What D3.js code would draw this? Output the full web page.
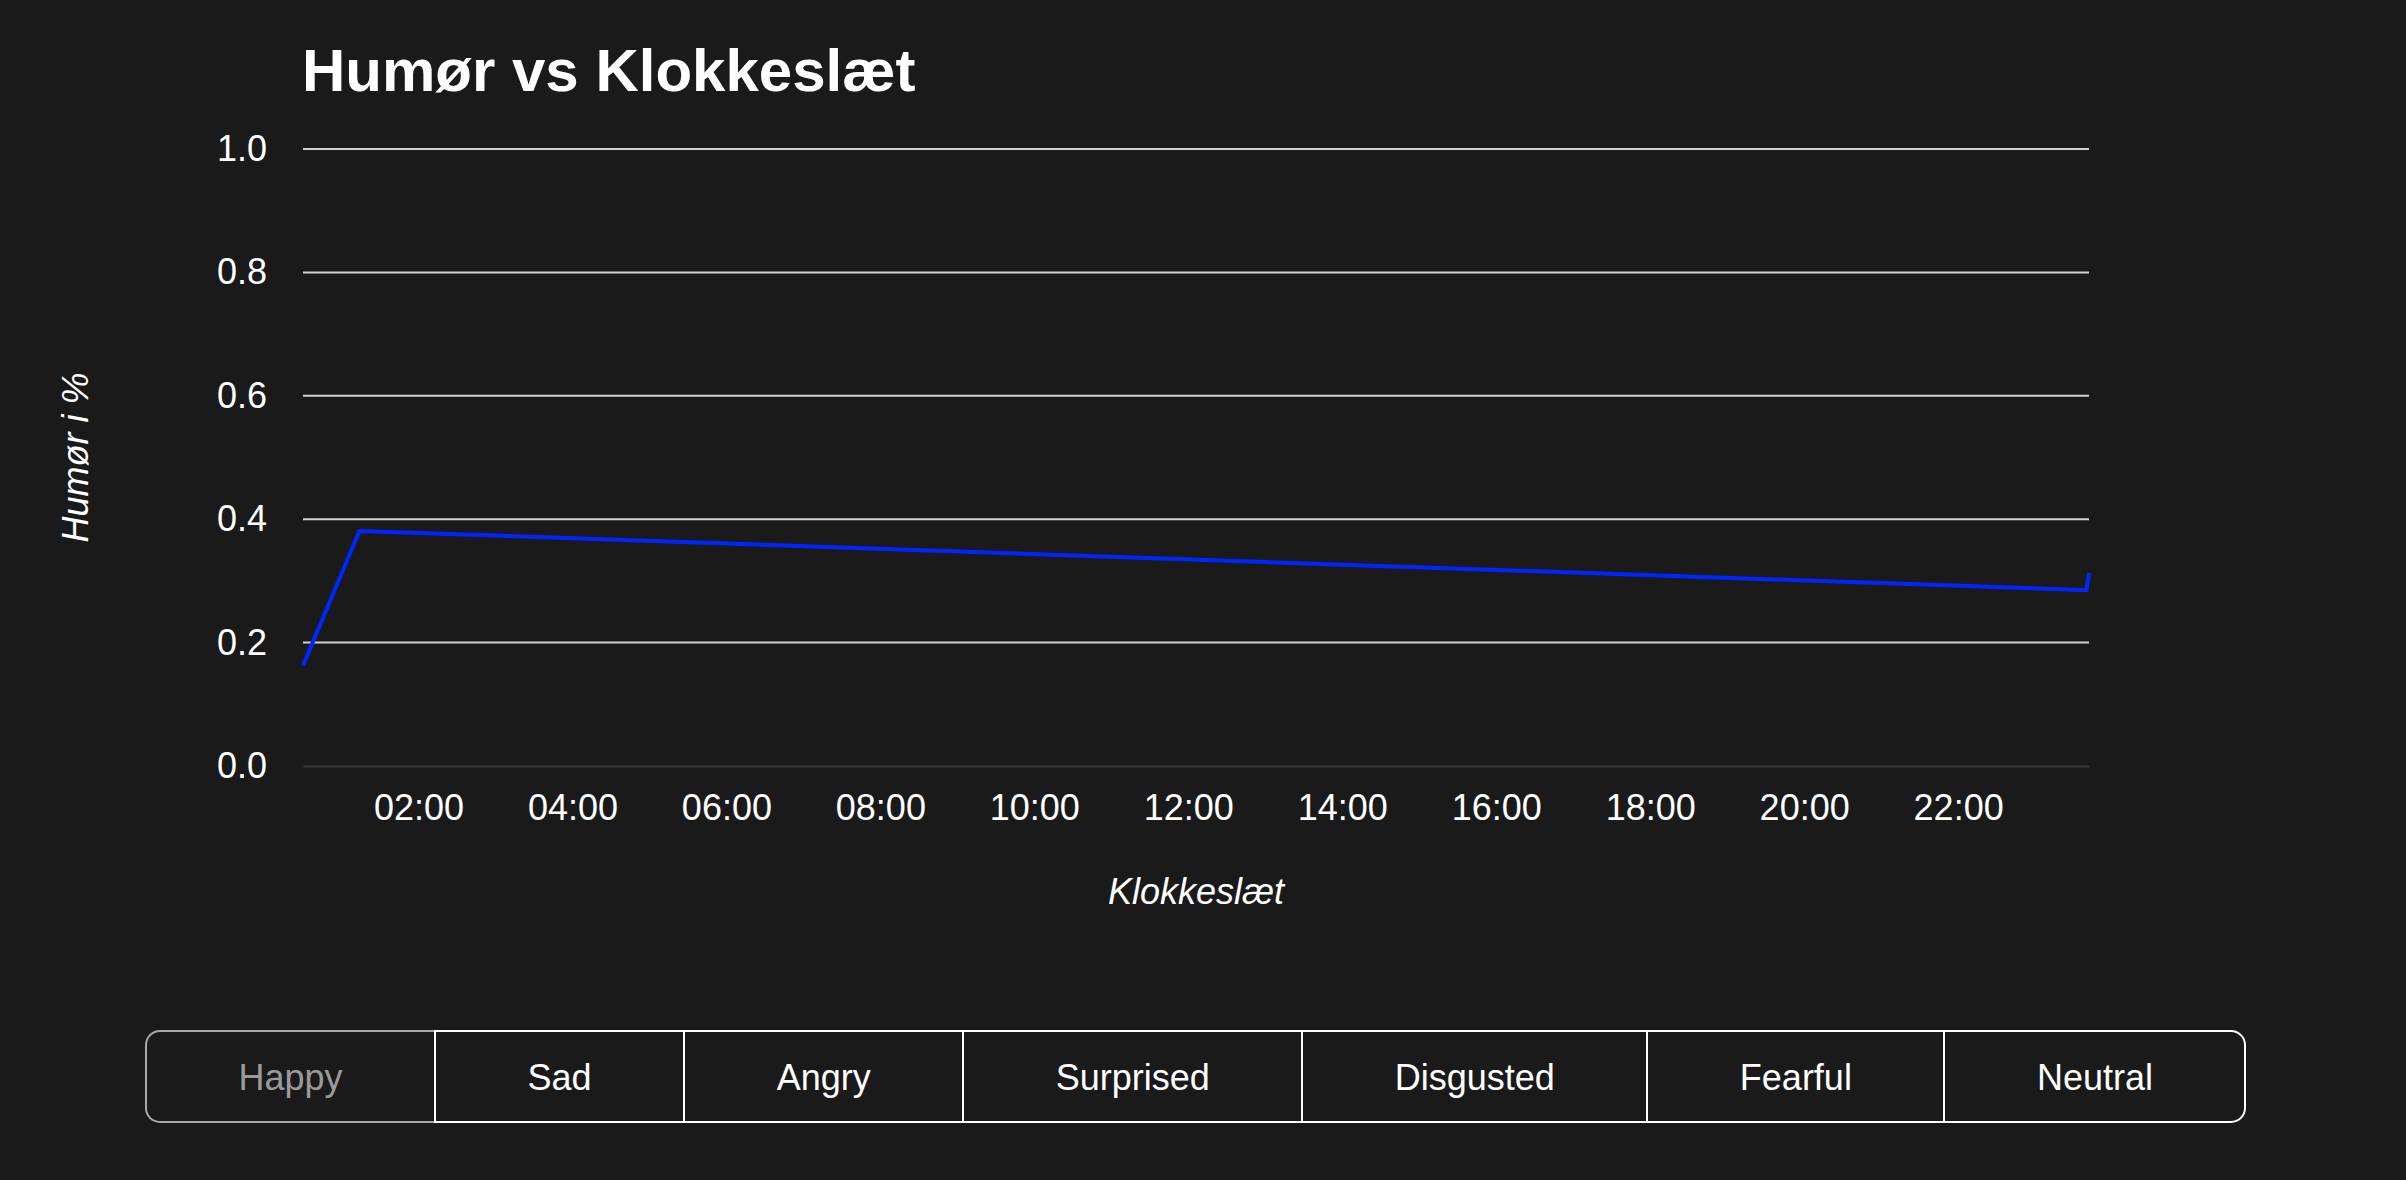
<!DOCTYPE html>
<html>
<head>
<meta charset="utf-8">
<script src="https://cdn.jsdelivr.net/npm/d3@7"></script>
<style>
  html, body { margin: 0; padding: 0; background: #1a1a1a; }
  body { width: 2406px; height: 1180px; position: relative; overflow: hidden; font-family: "Liberation Sans", Arial, sans-serif; }
  svg { position: absolute; left: 0; top: 0; }
  .moods { position: absolute; left: 145px; top: 1030px; height: 93px; display: flex; }
  .moods button {
    font-family: "Liberation Sans", Arial, sans-serif; font-size: 36px; color: #fff;
    background: transparent; height: 93px; box-sizing: border-box; padding: 2px 91.5px 0 91.5px; margin: 0;
    border: 2px solid #fff; border-right: none; border-radius: 0;
  }
  .moods button:first-child { border-radius: 15px 0 0 15px; }
  .moods button:last-child { border-right: 2px solid #fff; border-radius: 0 15px 15px 0; }
  .moods button.active { color: #9a9a9a; border-color: #a8a8a8; }
</style>
</head>
<body>
<svg id="chart" width="2406" height="1000"></svg>
<div class="moods" id="moods"></div>
<script>
// data (happy mood over the day)
const times = ["00:30", "01:14", "23:40", "23:42"];
const happy = [0.163, 0.381, 0.285, 0.313];
const yTicks = [0, 0.2, 0.4, 0.6, 0.8, 1.0];
const moods = ["Happy", "Sad", "Angry", "Surprised", "Disgusted", "Fearful", "Neutral"];
const activeMood = "Happy";

const parse = d3.timeParse("%H:%M");
const points = times.map((t, i) => ({ t: parse(t), v: happy[i] }));

const margin = { left: 303, right: 317, top: 149, bottom: 234 };
const W = 2406, H = 1000;
const svg = d3.select("#chart");

const x = d3.scaleTime()
  .domain(d3.extent(points, d => d.t))
  .range([margin.left, W - margin.right]);
const y = d3.scaleLinear()
  .domain([0, 1])
  .range([H - margin.bottom, margin.top]);

// title
svg.append("text")
  .attr("x", margin.left - 1).attr("y", 91)
  .attr("fill", "#fff")
  .style("font-size", "60px").style("font-weight", "bold")
  .text("Humør vs Klokkeslæt");

// horizontal grid
svg.append("g").selectAll("line")
  .data(yTicks.filter(d => d > 0))
  .join("line")
  .attr("x1", margin.left).attr("x2", W - margin.right)
  .attr("y1", d => y(d)).attr("y2", d => y(d))
  .attr("stroke", "#d2d2d2").attr("stroke-width", 2);

// y axis
const yAxis = svg.append("g")
  .attr("transform", `translate(${margin.left},0)`)
  .call(d3.axisLeft(y).tickValues(yTicks).tickFormat(d3.format(".1f")).tickSize(0).tickPadding(36));
yAxis.select(".domain").remove();
yAxis.selectAll("text").attr("fill", "#fff").style("font-size", "36px").style("font-family", "Liberation Sans, Arial, sans-serif");

// x axis
const xAxis = svg.append("g")
  .attr("transform", `translate(0,${y(0)})`)
  .call(d3.axisBottom(x).ticks(d3.timeHour.every(2)).tickFormat(d3.timeFormat("%H:%M")).tickSize(0).tickSizeOuter(0).tickPadding(28));
xAxis.select(".domain").attr("stroke", "#3a3a3a").attr("stroke-width", 2);
xAxis.selectAll("text").attr("fill", "#fff").style("font-size", "36px").style("font-family", "Liberation Sans, Arial, sans-serif");

// axis titles
svg.append("text")
  .attr("x", (margin.left + W - margin.right) / 2).attr("y", 904)
  .attr("text-anchor", "middle").attr("fill", "#fff")
  .style("font-size", "36px").style("font-style", "italic")
  .text("Klokkeslæt");
svg.append("text")
  .attr("transform", `translate(88,${(y(0) + y(1)) / 2}) rotate(-90)`)
  .attr("text-anchor", "middle").attr("fill", "#fff")
  .style("font-size", "36px").style("font-style", "italic")
  .text("Humør i %");

// line
svg.append("path")
  .datum(points)
  .attr("fill", "none")
  .attr("stroke", "#0026ff")
  .attr("stroke-width", 4)
  .attr("d", d3.line().x(d => x(d.t)).y(d => y(d.v)));

// mood selector
d3.select("#moods").selectAll("button")
  .data(moods)
  .join("button")
  .classed("active", d => d === activeMood)
  .text(d => d);
</script>
</body>
</html>
